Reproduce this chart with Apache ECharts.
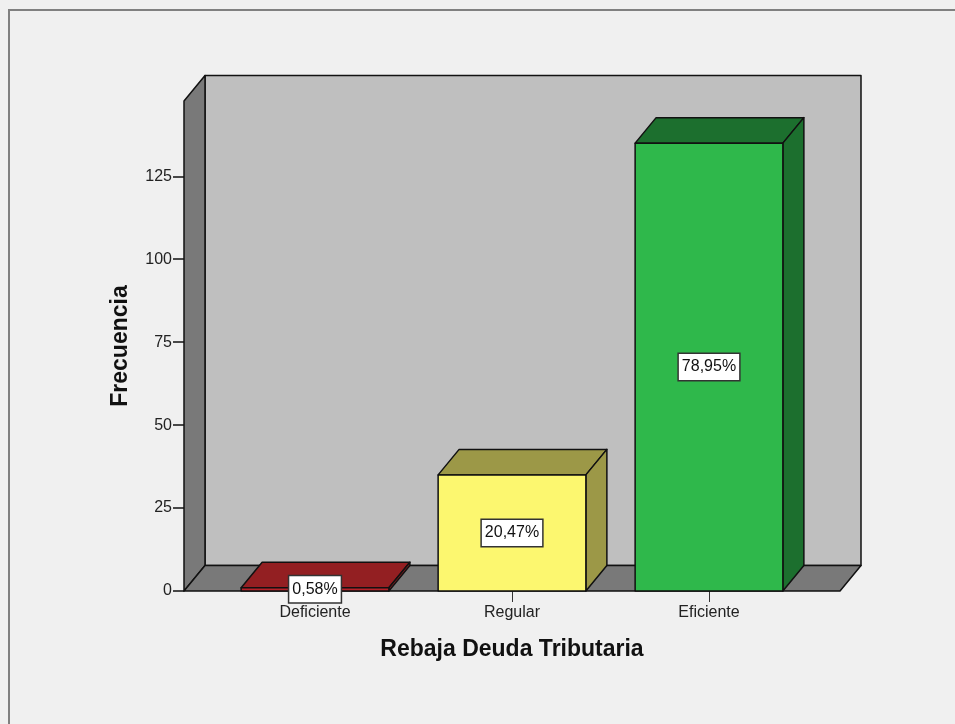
<!DOCTYPE html>
<html>
<head>
<meta charset="utf-8">
<title>Rebaja Deuda Tributaria</title>
<script src="https://cdn.jsdelivr.net/npm/echarts@6/dist/echarts.min.js"></script>
<style>
  html, body { margin: 0; padding: 0; background: #f0f0f0; }
  #main { width: 955px; height: 724px; }
</style>
</head>
<body>
<div id="main"></div>
<script>
var categories = ["Deficiente", "Regular", "Eficiente"];
var frecuencia = [1, 35, 135];
var porcentajes = ["0,58%", "20,47%", "78,95%"];
var yTicks = [0, 25, 50, 75, 100, 125];

var frontColors = ["#b5232a", "#fcf76f", "#2fb84b"];
var sideColors = ["#931f22", "#9c9847", "#1c6f2e"];

var depthX = 21;
var depthY = 25.5;
var wallPad = 32.5; // walls are wider than the category band
var font = "Liberation Sans";
var ink = "#111";

function poly(points, fill) {
  return {
    type: "polygon",
    shape: { points: points },
    style: { fill: fill, stroke: ink, lineWidth: 1.5, lineJoin: "round" },
  };
}

function renderWalls(params, api) {
  var c = params.coordSys;
  var l = c.x - wallPad;
  var r = c.x + c.width + wallPad;
  var t = c.y;
  var b = c.y + c.height;
  return {
    type: "group",
    children: [
      poly([[l + depthX, t - depthY], [r + depthX, t - depthY], [r + depthX, b - depthY], [l + depthX, b - depthY]], "#bfbfbf"),
      poly([[l, t], [l + depthX, t - depthY], [l + depthX, b - depthY], [l, b]], "#797979"),
      poly([[l, b], [l + depthX, b - depthY], [r + depthX, b - depthY], [r, b]], "#797979"),
    ],
  };
}

function renderBar(params, api) {
  var i = params.dataIndex;
  var top = api.coord([api.value(0), api.value(1)]);
  var base = api.coord([api.value(0), 0]);
  var w = api.size([1, 0])[0] * 0.75;
  var l = top[0] - w / 2;
  var r = top[0] + w / 2;
  return {
    type: "group",
    children: [
      poly([[l, top[1]], [l + depthX, top[1] - depthY], [r + depthX, top[1] - depthY], [r, top[1]]], sideColors[i]),
      poly([[r, top[1]], [r + depthX, top[1] - depthY], [r + depthX, base[1] - depthY], [r, base[1]]], sideColors[i]),
      poly([[l, top[1]], [r, top[1]], [r, base[1]], [l, base[1]]], frontColors[i]),
      {
        type: "text",
        x: top[0],
        y: (top[1] + base[1]) / 2,
        style: {
          text: porcentajes[i],
          align: "center",
          verticalAlign: "middle",
          fontFamily: font,
          fontSize: 16,
          fill: ink,
          backgroundColor: "#fff",
          borderColor: "#333",
          borderWidth: 1.5,
          padding: [6, 3, 4, 3],
        },
      },
    ],
  };
}

var myChart = echarts.init(document.getElementById("main"));
var option = {
  animation: false,
  backgroundColor: "#f0f0f0",
  graphic: [
    {
      type: "rect",
      shape: { x: 9, y: 10, width: 1000, height: 800 },
      style: { fill: "none", stroke: "#808080", lineWidth: 2 },
      silent: true,
    },
  ],
  grid: { left: 216.5, top: 101, width: 591, height: 490 },
  xAxis: {
    type: "category",
    data: categories,
    name: "Rebaja Deuda Tributaria",
    nameLocation: "middle",
    nameGap: 47,
    nameTextStyle: { fontFamily: font, fontSize: 23, fontWeight: "bold", color: ink },
    axisLine: { show: false },
    axisTick: { show: true, alignWithLabel: true, length: 11, lineStyle: { color: "#333", width: 1 } },
    axisLabel: { fontFamily: font, fontSize: 16, color: "#222", margin: 14 },
  },
  yAxis: {
    type: "value",
    min: 0,
    max: 147.7,
    offset: 32.5,
    name: "Frecuencia",
    nameLocation: "middle",
    nameRotate: 90,
    nameGap: 52,
    nameTextStyle: { fontFamily: font, fontSize: 23, fontWeight: "bold", color: ink },
    splitLine: { show: false },
    axisLine: { show: false },
    axisTick: { show: true, length: 11, customValues: yTicks, lineStyle: { color: "#111", width: 1.5 } },
    axisLabel: { fontFamily: font, fontSize: 16, color: "#222", margin: 12, customValues: yTicks },
  },
  series: [
    {
      type: "custom",
      silent: true,
      z: 1,
      renderItem: renderWalls,
      data: [[0, 0]],
    },
    {
      type: "custom",
      z: 2,
      renderItem: renderBar,
      encode: { x: 0, y: 1 },
      data: categories.map(function (c, i) {
        return [i, frecuencia[i]];
      }),
    },
  ],
};
myChart.setOption(option);
</script>
</body>
</html>
